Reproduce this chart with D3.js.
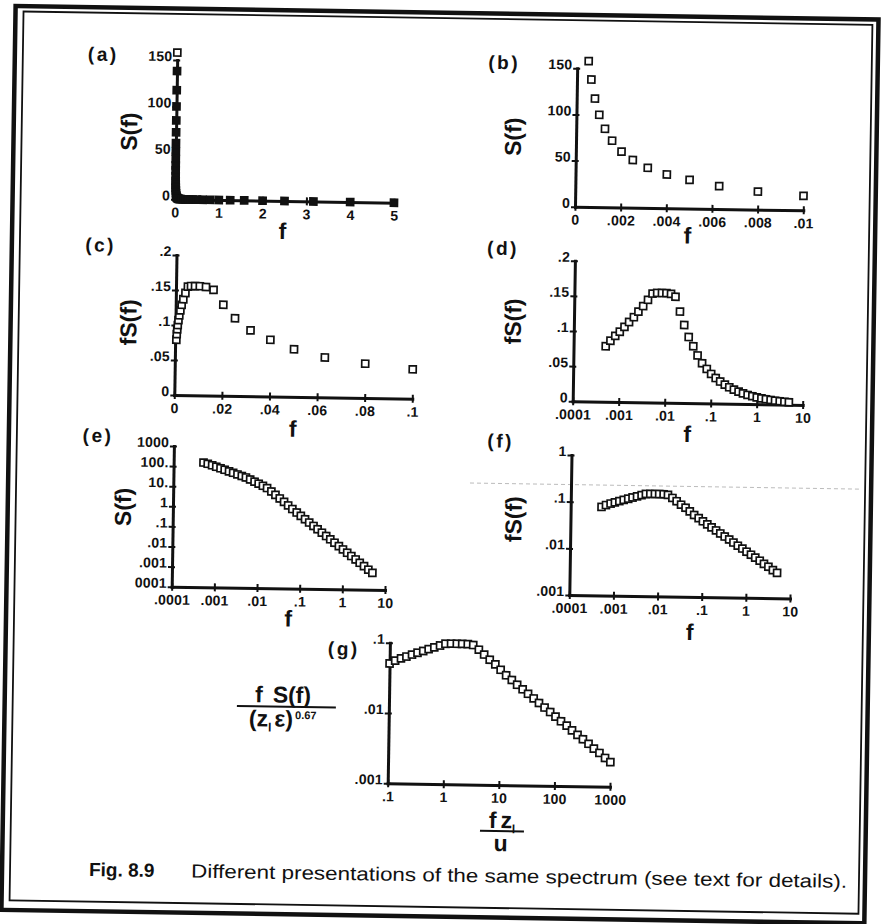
<!DOCTYPE html>
<html>
<head>
<meta charset="utf-8">
<script src="https://cdn.jsdelivr.net/npm/d3@7"></script>
<style>
body { margin: 0; background: #fff; }
svg text { font-family: "Liberation Sans", Arial, Helvetica, sans-serif; fill: #111; }
.tk { font-size: 14px; font-weight: bold; letter-spacing: 0.2px; }
.pl { font-size: 19px; font-weight: bold; letter-spacing: 2.5px; }
.ax { font-size: 23px; font-weight: bold; }
.cap { font-size: 19px; }
</style>
</head>
<body>
<div id="fig"></div>
<script>
// the spectrum, ten points per decade
var freq = [0.0005, 0.00063, 0.0008, 0.001, 0.00126, 0.00158, 0.002, 0.0025, 0.00316, 0.004,
            0.005, 0.0063, 0.008, 0.01, 0.0126, 0.0158, 0.02, 0.025, 0.0316, 0.04,
            0.05, 0.063, 0.08, 0.1, 0.126, 0.158, 0.2, 0.25, 0.316, 0.4,
            0.5, 0.63, 0.8, 1, 1.26, 1.58, 2, 2.5, 3.16, 4, 5];
var fS = [0.079, 0.087, 0.094, 0.100, 0.107, 0.114, 0.121, 0.129, 0.137, 0.146,
          0.155, 0.156, 0.156, 0.156, 0.155, 0.151, 0.130, 0.111, 0.094, 0.081,
          0.068, 0.057, 0.049, 0.042, 0.0363, 0.0314, 0.0271, 0.0234, 0.0202, 0.0175,
          0.0151, 0.0130, 0.0113, 0.0097, 0.0084, 0.0073, 0.0063, 0.0054, 0.0047, 0.0040, 0.0035];
// (g) scaling: z_l/u and (z_l eps)^0.67
var zlOverU = 200;
var normG = 1.56;

// tick values and labels
var aXTicks = [0, 1, 2, 3, 4, 5], aXLabels = ["0", "1", "2", "3", "4", "5"];
var sYTicks = [0, 50, 100, 150], sYLabels = ["0", "50", "100", "150"];
var bXTicks = [0, 0.002, 0.004, 0.006, 0.008, 0.01], bXLabels = ["0", ".002", ".004", ".006", ".008", ".01"];
var cXTicks = [0, 0.02, 0.04, 0.06, 0.08, 0.1], cXLabels = ["0", ".02", ".04", ".06", ".08", ".1"];
var fsYTicks = [0, 0.05, 0.1, 0.15, 0.2], fsYLabels = ["0", ".05", ".1", ".15", ".2"];
var logXTicks = [0.0001, 0.001, 0.01, 0.1, 1, 10], logXLabels = [".0001", ".001", ".01", ".1", "1", "10"];
var eYTicks = [0.0001, 0.001, 0.01, 0.1, 1, 10, 100, 1000], eYLabels = ["0001", ".001", ".01", ".1", "1", "10.", "100.", "1000"];
var fYTicks = [0.001, 0.01, 0.1, 1], fYLabels = [".001", ".01", ".1", "1"];
var gXTicks = [0.1, 1, 10, 100, 1000], gXLabels = [".1", "1", "10", "100", "1000"];
var gYTicks = [0.001, 0.01, 0.1], gYLabels = [".001", ".01", ".1"];

var S = freq.map((f, i) => [f, fS[i] / f]);
var FS = freq.map((f, i) => [f, fS[i]]);
var G = freq.map((f, i) => [f * zlOverU, fS[i] / normG]);

// the scan is tilted a little; draw level and rotate the whole page
var ROT = 0.9, CX = 441, CY = 462;
function unrot(x, y) {
  var a = -ROT * Math.PI / 180, dx = x - CX, dy = y - CY;
  return [CX + dx * Math.cos(a) - dy * Math.sin(a), CY + dx * Math.sin(a) + dy * Math.cos(a)];
}

var svg = d3.select("#fig").append("svg").attr("width", 881).attr("height", 924);
svg.append("rect").attr("width", 881).attr("height", 924).attr("fill", "#fff");
var root = svg.append("g").attr("transform", `rotate(${ROT},${CX},${CY})`);

// double frame
root.append("rect").attr("x", 8.5).attr("y", 12.7).attr("width", 863).attr("height", 904)
  .attr("fill", "none").attr("stroke", "#111").attr("stroke-width", 4.5);
root.append("rect").attr("x", 16.5).attr("y", 18.1).attr("width", 849).attr("height", 889)
  .attr("fill", "none").attr("stroke", "#111").attr("stroke-width", 1.8);

// faint scan streak across panel (f)
var s0 = unrot(470, 483);
root.append("line").attr("x1", s0[0]).attr("x2", s0[0] + 390).attr("y1", s0[1]).attr("y2", s0[1])
  .attr("stroke", "#aaa").attr("stroke-width", 0.8).attr("stroke-dasharray", "4,3");

var panels = [
  {id: "(a)", cx: 175, cy: 199.3, w: 219, h: 139.3, xDom: [0, 5], yDom: [0, 150],
   xT: aXTicks, xL: aXLabels, yT: sYTicks, yL: sYLabels, pts: S, filled: true,
   lab: [-74, -144], ylab: "S(f)", yl: [-47, -67], xl: [108, 30]},
  {id: "(b)", cx: 575, cy: 206.7, w: 228.3, h: 138.4, xDom: [0, 0.01], yDom: [0, 150],
   xT: bXTicks, xL: bXLabels, yT: sYTicks, yL: sYLabels, pts: S.filter(d => d[0] <= 0.0101),
   lab: [-73, -143], ylab: "S(f)", yl: [-63, -69], xl: [113, 27]},
  {id: "(c)", cx: 174.3, cy: 395, w: 238, h: 140, xDom: [0, 0.1], yDom: [0, 0.2],
   xT: cXTicks, xL: cXLabels, yT: fsYTicks, yL: fsYLabels, pts: FS.filter(d => d[0] <= 0.101),
   lab: [-76, -149], ylab: "fS(f)", yl: [-47, -72], xl: [119, 32]},
  {id: "(d)", cx: 572.7, cy: 401.3, w: 230, h: 140.6, xLog: true, xDom: [0.0001, 10], yDom: [0, 0.2],
   xT: logXTicks, xL: logXLabels, yT: fsYTicks, yL: fsYLabels, pts: FS,
   lab: [-72, -152], ylab: "fS(f)", yl: [-61, -79], xl: [115, 31]},
  {id: "(e)", cx: 171.7, cy: 586.7, w: 213.3, h: 140.7, xLog: true, yLog: true, xDom: [0.0001, 10], yDom: [0.0001, 1000],
   xT: logXTicks, xL: logXLabels, yT: eYTicks, yL: eYLabels, pts: S,
   lab: [-76, -150], ylab: "S(f)", yl: [-50, -79], xl: [117, 30]},
  {id: "(f)", cx: 569.3, cy: 595, w: 220.7, h: 140, xLog: true, yLog: true, xDom: [0.0001, 10], yDom: [0.001, 1],
   xT: logXTicks, xL: logXLabels, yT: fYTicks, yL: fYLabels, pts: FS,
   lab: [-71, -153], ylab: "fS(f)", yl: [-57, -75], xl: [121, 35]},
  {id: "(g)", cx: 387.7, cy: 783.3, w: 222.3, h: 140.6, xLog: true, yLog: true, xDom: [0.1, 1000], yDom: [0.001, 0.1],
   xT: gXTicks, xL: gXLabels, yT: gYTicks, yL: gYLabels, pts: G,
   lab: [-46, -134]}
];

panels.forEach(function(p) {
  var c = unrot(p.cx, p.cy);
  var g = root.append("g").attr("transform", `translate(${c[0]},${c[1]})`);
  var x = (p.xLog ? d3.scaleLog() : d3.scaleLinear()).domain(p.xDom).range([0, p.w]);
  var y = (p.yLog ? d3.scaleLog() : d3.scaleLinear()).domain(p.yDom).range([0, -p.h]);

  var xa = g.append("g").call(d3.axisBottom(x).tickValues(p.xT).tickFormat((d, i) => p.xL[i])
    .tickSizeInner(4).tickSizeOuter(0).tickPadding(4));
  var ya = g.append("g").call(d3.axisLeft(y).tickValues(p.yT).tickFormat((d, i) => p.yL[i])
    .tickSizeInner(4).tickSizeOuter(0).tickPadding(1));
  [xa, ya].forEach(function(a) {
    a.attr("font-family", null).attr("font-size", null);
    a.select(".domain").attr("stroke", "#111").attr("stroke-width", 3).attr("stroke-linecap", "square");
    a.selectAll(".tick line").attr("stroke", "#111").attr("stroke-width", 2);
    a.selectAll(".tick text").attr("class", "tk");
  });
  xa.selectAll(".tick line").attr("y1", -4);
  ya.selectAll(".tick line").attr("x1", 3);
  ya.selectAll(".tick text").attr("dy", "0.05em");

  g.selectAll("rect.pt").data(p.pts).join("rect").attr("class", "pt")
    .attr("x", d => x(d[0]) - 3.5).attr("y", d => y(d[1]) - 3.5)
    .attr("width", 7).attr("height", 7)
    .attr("fill", d => p.filled && d[1] <= p.yDom[1] ? "#111" : "#fff")
    .attr("stroke", "#111").attr("stroke-width", 1.7);

  g.append("text").attr("class", "pl").attr("x", p.lab[0]).attr("y", p.lab[1])
    .attr("text-anchor", "middle").attr("dy", "0.35em").text(p.id);

  if (p.ylab) {
    g.append("text").attr("class", "ax")
      .attr("transform", `translate(${p.yl[0]},${p.yl[1]}) rotate(-90)`)
      .attr("text-anchor", "middle").attr("dy", "0.35em").text(p.ylab);
    g.append("text").attr("class", "ax").attr("x", p.xl[0]).attr("y", p.xl[1])
      .attr("text-anchor", "middle").attr("dy", "0.35em").text("f");
  } else {
    // (g) fraction labels
    var num = g.append("text").attr("class", "ax").attr("x", -106).attr("y", -87)
      .attr("text-anchor", "middle").attr("dy", "0.35em").attr("font-size", 21);
    num.append("tspan").text("f");
    num.append("tspan").attr("dx", 10).text("S(f)");
    g.append("line").attr("x1", -152).attr("x2", -53).attr("y1", -75).attr("y2", -75)
      .attr("stroke", "#111").attr("stroke-width", 2);
    var den = g.append("text").attr("class", "ax").attr("x", -106).attr("y", -63)
      .attr("text-anchor", "middle").attr("dy", "0.35em").attr("font-size", 21);
    den.append("tspan").text("(z");
    den.append("tspan").attr("font-size", 12).attr("dy", 5).text("l");
    den.append("tspan").attr("dy", -5).attr("dx", 3).text("\u03b5)");
    den.append("tspan").attr("font-size", 11).attr("dy", -8).attr("dx", 2).text("0.67");

    var xn = g.append("text").attr("class", "ax").attr("x", 115).attr("y", 35)
      .attr("text-anchor", "middle").attr("dy", "0.35em").attr("font-size", 21);
    xn.append("tspan").text("f");
    xn.append("tspan").attr("dx", 4).text("z");
    xn.append("tspan").attr("font-size", 12).attr("dy", 5).text("l");
    g.append("line").attr("x1", 93).attr("x2", 137).attr("y1", 46).attr("y2", 46)
      .attr("stroke", "#111").attr("stroke-width", 2);
    g.append("text").attr("class", "ax").attr("x", 114).attr("y", 58)
      .attr("text-anchor", "middle").attr("dy", "0.35em").attr("font-size", 22).text("u");
  }
});

// caption
var cp = unrot(89, 876);
root.append("text").attr("class", "cap").attr("x", cp[0]).attr("y", cp[1])
  .attr("font-weight", "bold").text("Fig. 8.9");
root.append("text").attr("class", "cap").attr("x", cp[0] + 102).attr("y", cp[1])
  .attr("textLength", 656).attr("lengthAdjust", "spacingAndGlyphs")
  .text("Different presentations of the same spectrum (see text for details).");
</script>
</body>
</html>
